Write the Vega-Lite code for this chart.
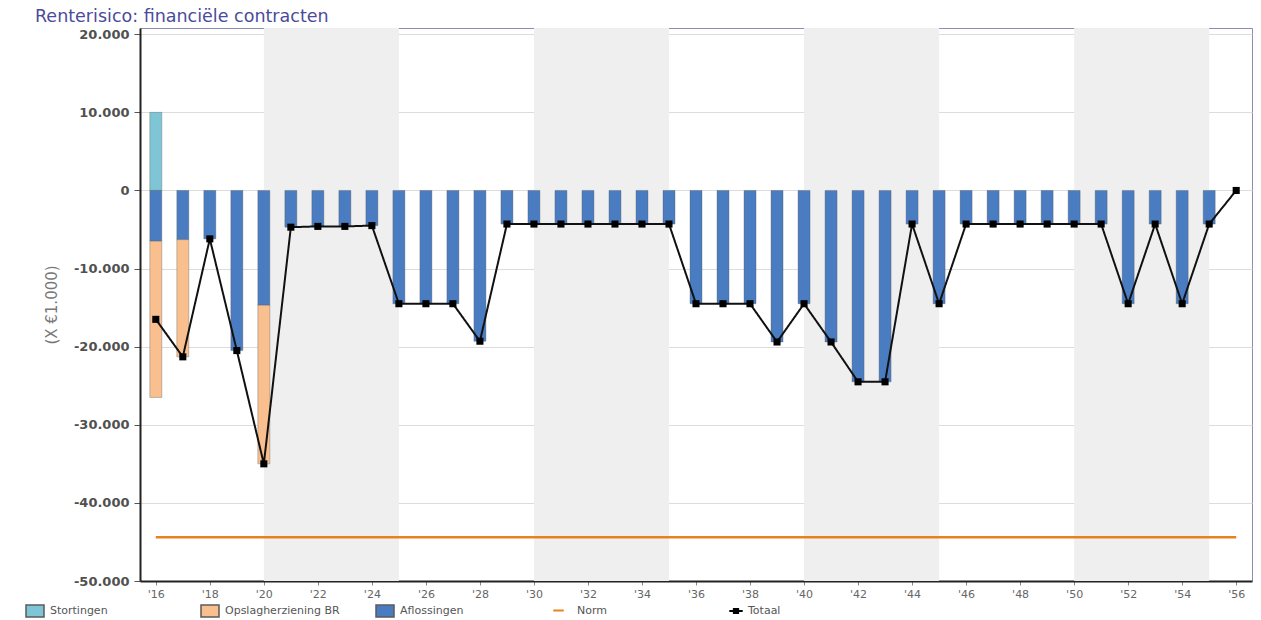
{
  "$schema": "https://vega.github.io/schema/vega-lite/v6.json",
  "autosize": {"type": "none"},
  "padding": {"left": 140, "top": 28, "right": 9, "bottom": 39},
  "width": 1112,
  "height": 553,
  "background": "white",
  "title": {
    "text": "Renterisico: financiële contracten",
    "anchor": "start",
    "frame": "group",
    "dx": -105,
    "offset": 3,
    "font": "DejaVu Sans",
    "fontSize": 17.5,
    "fontWeight": "normal",
    "color": "#4b4b9b"
  },
  "config": {
    "view": {"stroke": "#8c8cb4", "strokeWidth": 1},
    "font": "DejaVu Sans",
    "legend": {"labelColor": "#555", "labelFontSize": 11, "labelLimit": 200, "title": null}
  },
  "datasets": {
    "bands": [
      {"start": 2020, "end": 2025},
      {"start": 2030, "end": 2035},
      {"start": 2040, "end": 2045},
      {"start": 2050, "end": 2055}
    ],
    "bars": [
      {"year": 2016, "serie": "Stortingen", "value": 10000},
      {"year": 2016, "serie": "Aflossingen", "value": -6500},
      {"year": 2016, "serie": "Opslagherziening BR", "value": -20000},
      {"year": 2017, "serie": "Aflossingen", "value": -6300},
      {"year": 2017, "serie": "Opslagherziening BR", "value": -15000},
      {"year": 2018, "serie": "Aflossingen", "value": -6200},
      {"year": 2019, "serie": "Aflossingen", "value": -20500},
      {"year": 2020, "serie": "Aflossingen", "value": -14700},
      {"year": 2020, "serie": "Opslagherziening BR", "value": -20300},
      {"year": 2021, "serie": "Aflossingen", "value": -4700},
      {"year": 2022, "serie": "Aflossingen", "value": -4600},
      {"year": 2023, "serie": "Aflossingen", "value": -4600},
      {"year": 2024, "serie": "Aflossingen", "value": -4500},
      {"year": 2025, "serie": "Aflossingen", "value": -14500},
      {"year": 2026, "serie": "Aflossingen", "value": -14500},
      {"year": 2027, "serie": "Aflossingen", "value": -14500},
      {"year": 2028, "serie": "Aflossingen", "value": -19300},
      {"year": 2029, "serie": "Aflossingen", "value": -4300},
      {"year": 2030, "serie": "Aflossingen", "value": -4300},
      {"year": 2031, "serie": "Aflossingen", "value": -4300},
      {"year": 2032, "serie": "Aflossingen", "value": -4300},
      {"year": 2033, "serie": "Aflossingen", "value": -4300},
      {"year": 2034, "serie": "Aflossingen", "value": -4300},
      {"year": 2035, "serie": "Aflossingen", "value": -4300},
      {"year": 2036, "serie": "Aflossingen", "value": -14500},
      {"year": 2037, "serie": "Aflossingen", "value": -14500},
      {"year": 2038, "serie": "Aflossingen", "value": -14500},
      {"year": 2039, "serie": "Aflossingen", "value": -19400},
      {"year": 2040, "serie": "Aflossingen", "value": -14500},
      {"year": 2041, "serie": "Aflossingen", "value": -19400},
      {"year": 2042, "serie": "Aflossingen", "value": -24500},
      {"year": 2043, "serie": "Aflossingen", "value": -24500},
      {"year": 2044, "serie": "Aflossingen", "value": -4300},
      {"year": 2045, "serie": "Aflossingen", "value": -14500},
      {"year": 2046, "serie": "Aflossingen", "value": -4300},
      {"year": 2047, "serie": "Aflossingen", "value": -4300},
      {"year": 2048, "serie": "Aflossingen", "value": -4300},
      {"year": 2049, "serie": "Aflossingen", "value": -4300},
      {"year": 2050, "serie": "Aflossingen", "value": -4300},
      {"year": 2051, "serie": "Aflossingen", "value": -4300},
      {"year": 2052, "serie": "Aflossingen", "value": -14500},
      {"year": 2053, "serie": "Aflossingen", "value": -4300},
      {"year": 2054, "serie": "Aflossingen", "value": -14500},
      {"year": 2055, "serie": "Aflossingen", "value": -4300}
    ],
    "totaal": [
      {"year": 2016, "total": -16500},
      {"year": 2017, "total": -21300},
      {"year": 2018, "total": -6200},
      {"year": 2019, "total": -20500},
      {"year": 2020, "total": -35000},
      {"year": 2021, "total": -4700},
      {"year": 2022, "total": -4600},
      {"year": 2023, "total": -4600},
      {"year": 2024, "total": -4500},
      {"year": 2025, "total": -14500},
      {"year": 2026, "total": -14500},
      {"year": 2027, "total": -14500},
      {"year": 2028, "total": -19300},
      {"year": 2029, "total": -4300},
      {"year": 2030, "total": -4300},
      {"year": 2031, "total": -4300},
      {"year": 2032, "total": -4300},
      {"year": 2033, "total": -4300},
      {"year": 2034, "total": -4300},
      {"year": 2035, "total": -4300},
      {"year": 2036, "total": -14500},
      {"year": 2037, "total": -14500},
      {"year": 2038, "total": -14500},
      {"year": 2039, "total": -19400},
      {"year": 2040, "total": -14500},
      {"year": 2041, "total": -19400},
      {"year": 2042, "total": -24500},
      {"year": 2043, "total": -24500},
      {"year": 2044, "total": -4300},
      {"year": 2045, "total": -14500},
      {"year": 2046, "total": -4300},
      {"year": 2047, "total": -4300},
      {"year": 2048, "total": -4300},
      {"year": 2049, "total": -4300},
      {"year": 2050, "total": -4300},
      {"year": 2051, "total": -4300},
      {"year": 2052, "total": -14500},
      {"year": 2053, "total": -4300},
      {"year": 2054, "total": -14500},
      {"year": 2055, "total": -4300},
      {"year": 2056, "total": 0}
    ],
    "norm": [
      {"year": 2016, "norm": -44400},
      {"year": 2056, "norm": -44400}
    ]
  },
  "layer": [
    {
      "data": {"name": "bands"},
      "mark": {"type": "rect", "color": "#efefef"},
      "encoding": {
        "x": {"field": "start", "type": "quantitative", "scale": {"domain": [2015.6, 2056.4], "nice": false, "zero": false}},
        "x2": {"field": "end"}
      }
    },
    {
      "data": {"name": "bars"},
      "mark": {"type": "bar", "size": 12, "stroke": "#5a5a5a", "strokeWidth": 0.6, "strokeOpacity": 0.6},
      "encoding": {
        "x": {
          "field": "year", "type": "quantitative",
          "scale": {"domain": [2015.6, 2056.4], "nice": false, "zero": false},
          "axis": {
            "title": null,
            "values": [2016, 2018, 2020, 2022, 2024, 2026, 2028, 2030, 2032, 2034, 2036, 2038, 2040, 2042, 2044, 2046, 2048, 2050, 2052, 2054, 2056],
            "labelExpr": "\"'\" + substring(toString(datum.value), 2)",
            "domainColor": "#222", "domainWidth": 2,
            "tickColor": "#888", "tickSize": 4,
            "labelColor": "#666", "labelFontSize": 11, "labelPadding": 3,
            "grid": false
          }
        },
        "y": {
          "field": "value", "type": "quantitative", "stack": "zero",
          "scale": {"domain": [-50000, 20800], "nice": false, "zero": false},
          "axis": {
            "title": "(X €1.000)",
            "values": [-50000, -40000, -30000, -20000, -10000, 0, 10000, 20000],
            "labelExpr": "replace(replace(format(datum.value, ','), ',', '.'), '\u2212', '-')",
            "domainColor": "#222", "domainWidth": 2,
            "tickColor": "#555", "tickSize": 6,
            "labelColor": "#505050", "labelFontSize": 13, "labelFontWeight": "bold", "labelPadding": 5,
            "titleColor": "#777", "titleFontSize": 15, "titleFontWeight": "normal", "titlePadding": 14,
            "grid": true, "gridColor": "#dcdcdc"
          }
        },
        "order": {"field": "serie", "type": "nominal", "sort": "ascending"},
        "color": {
          "field": "serie", "type": "nominal",
          "scale": {
            "domain": ["Stortingen", "Opslagherziening BR", "Aflossingen"],
            "range": ["#7ec6d6", "#f9bf8f", "#4a7cc2"]
          },
          "legend": {
            "orient": "none",
            "legendX": -115,
            "legendY": 573,
            "direction": "horizontal",
            "columns": 3,
            "gridAlign": "all",
            "columnPadding": 33,
            "symbolType": "M-1,-0.66H1V0.66H-1Z",
            "symbolSize": 324,
            "labelOffset": 5
          }
        }
      }
    },
    {
      "data": {"name": "norm"},
      "mark": {"type": "line", "strokeWidth": 2.5},
      "encoding": {
        "x": {"field": "year", "type": "quantitative"},
        "y": {"field": "norm", "type": "quantitative"},
        "stroke": {
          "datum": "Norm", "type": "nominal",
          "scale": {"domain": ["Norm"], "range": ["#e8821e"]},
          "legend": {
            "orient": "none",
            "legendX": 412,
            "legendY": 576,
            "symbolType": "stroke",
            "symbolSize": 110,
            "symbolStrokeWidth": 2,
            "labelOffset": 12
          }
        }
      }
    },
    {
      "data": {"name": "totaal"},
      "mark": {"type": "line", "strokeWidth": 2, "color": "#111"},
      "encoding": {
        "x": {"field": "year", "type": "quantitative"},
        "y": {"field": "total", "type": "quantitative"},
        "strokeDash": {
          "datum": "Totaal", "type": "nominal",
          "scale": {"domain": ["Totaal"], "range": [[1, 0]]},
          "legend": {
            "orient": "none",
            "legendX": 588,
            "legendY": 575,
            "symbolType": "M-1,0H1M-0.3,-0.3H0.3V0.3H-0.3Z",
            "symbolSize": 180,
            "symbolStrokeColor": "#000",
            "symbolStrokeWidth": 2.2,
            "labelOffset": 4
          }
        }
      }
    },
    {
      "data": {"name": "totaal"},
      "mark": {"type": "point", "shape": "square", "size": 50, "filled": true, "color": "#000", "opacity": 1},
      "encoding": {
        "x": {"field": "year", "type": "quantitative"},
        "y": {"field": "total", "type": "quantitative"}
      }
    }
  ]
}
